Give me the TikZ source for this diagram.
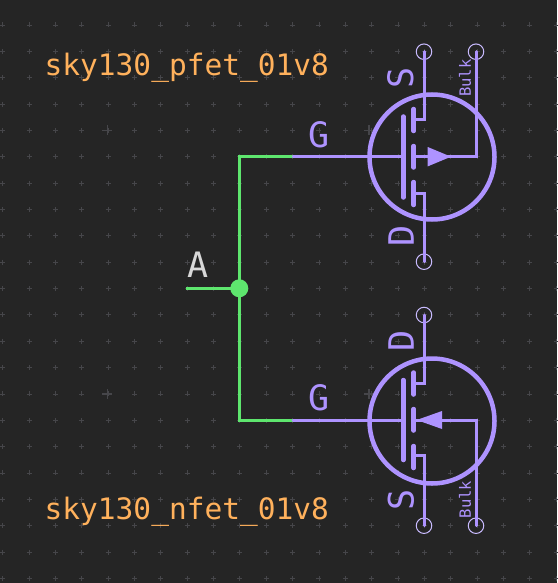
\documentclass[tikz,border=0pt]{standalone}
\usepackage{fontspec}
\setmonofont{DejaVu Sans Mono}
\definecolor{bgc}{HTML}{252525}
\definecolor{gridc}{HTML}{46464A}
\definecolor{wire}{HTML}{5EE66E}
\definecolor{fet}{HTML}{AE93FF}
\definecolor{pinc}{HTML}{C9BBFF}
\definecolor{title}{HTML}{FFB15C}
\definecolor{netl}{HTML}{D8D8D8}
\tikzset{
  wireline/.style={draw=wire,line width=3pt,line join=miter},
  fetline/.style={draw=fet,line width=3pt,line cap=round},
  body/.style={draw=fet,line width=4.5pt,circle,minimum size=125pt,inner sep=0pt},
  seg/.style={draw=fet,line width=4.5pt,line cap=round},
  pin/.style={draw=pinc,line width=1pt,circle,minimum size=15.5pt,inner sep=0pt},
  titletext/.style={font=\ttfamily\fontsize{29.5}{30}\selectfont,text=title,anchor=base west,inner sep=0pt},
  termlabel/.style={font=\ttfamily\fontsize{35}{35}\selectfont,text=fet,inner sep=0pt},
  bulklabel/.style={font=\ttfamily\fontsize{15.5}{15.5}\selectfont,text=fet,inner sep=0pt,rotate=90},
  netlabel/.style={font=\ttfamily\fontsize{35}{35}\selectfont,text=netl,inner sep=0pt}
}
\begin{document}
\begin{tikzpicture}[x=1pt,y=-1pt]
\useasboundingbox (0,0) rectangle (557,583);
\fill[bgc] (0,0) rectangle (557,583);
% grid
\foreach \i in {0,...,21}{\foreach \j in {0,...,21}{
  \pgfmathsetmacro{\gx}{2.7+26.35*\i}\pgfmathsetmacro{\gy}{25+26.35*\j}
  \draw[gridc,line width=.8pt] (\gx-2.5,\gy) -- (\gx+2.5,\gy) (\gx,\gy-2.5) -- (\gx,\gy+2.5);
}}
\foreach \mx/\my in {107.4/130.4,107.4/394,369/130.4,369/394}{
  \draw[gridc,line width=1.5pt] (\mx-5,\my) -- (\mx+5,\my) (\mx,\my-5) -- (\mx,\my+5);
}
% wires
\coordinate (Astart) at (186,288.3);
\coordinate (pg) at (293,156.7);
\coordinate (ng) at (293,420);
\coordinate (tcorner) at (239.3,156.7);
\coordinate (bcorner) at (239.3,420);
\node[circle,fill=wire,minimum size=18pt,inner sep=0pt] (J) at (239.3,288.3) {};
\draw[wireline] (Astart) -- (J.center);
\draw[wireline] (pg) -- (tcorner) -- (J.center) -- (bcorner) -- (ng);
\node[netlabel] (lA) at (198,264.5) {A};
% pfet
\node[body] (pbody) at (432,157) {};
\node[pin] (pS) at (424,51.7) {};
\node[pin] (pD) at (424,261.7) {};
\node[pin] (pB) at (476,51.7) {};
\coordinate (pGb) at (403.3,156.7);
\coordinate (pCh) at (413.7,156.7);
\coordinate (pBc) at (476,156.7);
\draw[fetline] (pg) -- (pGb);
\draw[seg] (403.3,116.5) -- (403.3,197.5);
\draw[seg] (413.7,109) -- (413.7,131) (413.7,146) -- (413.7,167.5) (413.7,182) -- (413.7,205);
\draw[fetline,line join=miter] (pS.center) -- (424,119.3) -- (413.7,119.3);
\draw[fetline,line join=miter] (pD.center) -- (424,193.3) -- (413.7,193.3);
\draw[fetline,line join=miter] (pB.center) -- (pBc) -- (pCh);
\fill[fet] (451,156.7) -- (427.7,147) -- (427.7,166.4) -- cycle;
\node[termlabel] (pgl) at (318.8,135) {G};
\node[termlabel,rotate=90] (psl) at (400.5,78) {S};
\node[termlabel,rotate=90] (pdl) at (401,236) {D};
\node[bulklabel] (pbl) at (465,78) {Bulk};
\node[titletext] (ptitle) at (44.5,75.5) {sky130\_pfet\_01v8};
% nfet
\node[body] (nbody) at (432,421) {};
\node[pin] (nD) at (424,315) {};
\node[pin] (nS) at (424,525.7) {};
\node[pin] (nB) at (476,525.7) {};
\coordinate (nGb) at (403.3,420);
\coordinate (nCh) at (413.7,420);
\coordinate (nBc) at (476,420);
\draw[fetline] (ng) -- (nGb);
\draw[seg] (403.3,380) -- (403.3,460);
\draw[seg] (413.7,372.5) -- (413.7,394.5) (413.7,409) -- (413.7,430.5) (413.7,446) -- (413.7,468);
\draw[fetline,line join=miter] (nD.center) -- (424,383.3) -- (413.7,383.3);
\draw[fetline,line join=miter] (nS.center) -- (424,455.7) -- (413.7,455.7);
\draw[fetline,line join=miter] (nB.center) -- (nBc) -- (nCh);
\fill[fet] (416.7,420) -- (442,411) -- (442,429) -- cycle;
\node[termlabel] (ngl) at (318.8,398) {G};
\node[termlabel,rotate=90] (nsl) at (401,500) {S};
\node[termlabel,rotate=90] (ndl) at (401,341) {D};
\node[bulklabel] (nbl) at (465,499.5) {Bulk};
\node[titletext] (ntitle) at (44.5,519.5) {sky130\_nfet\_01v8};
\end{tikzpicture}
\end{document}
